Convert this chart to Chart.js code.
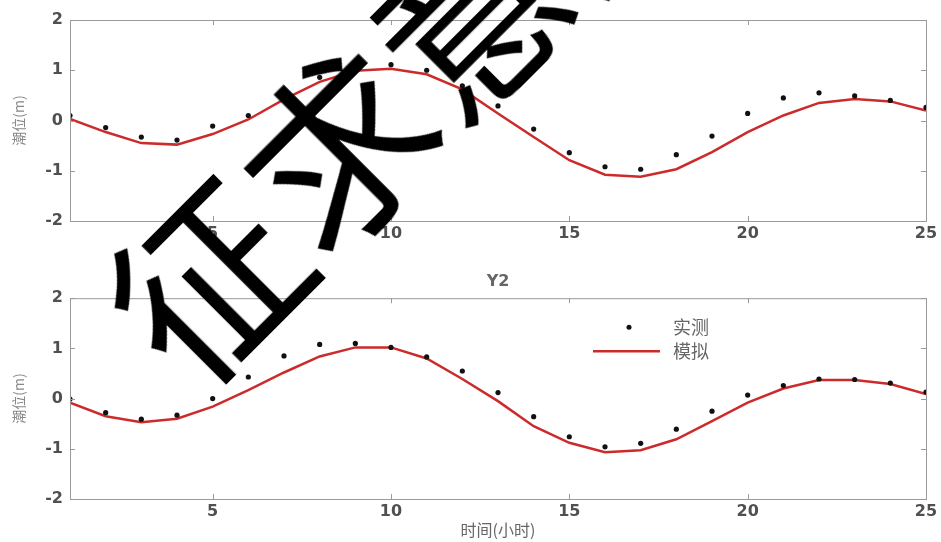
<!DOCTYPE html>
<html>
<head>
<meta charset="utf-8">
<script src="https://cdn.jsdelivr.net/npm/chart.js@4"></script>
<style>
  body { margin: 0; background: #fff; }
  #wrap { position: relative; width: 941px; height: 542px; overflow: hidden; }
  #c1 { position: absolute; left: 0; top: 0; }
  #c2 { position: absolute; left: 0; top: 270px; }
  #stamp {
    position: absolute; left: 398px; top: 77px;
    font-family: "Noto Sans CJK SC", sans-serif; font-size: 186px; line-height: 1;
    color: #000; white-space: nowrap; pointer-events: none;
    transform: translate(-50%, -50%) rotate(-45deg);
  }
</style>
</head>
<body>
<div id="wrap">
  <canvas id="c1" width="941" height="250"></canvas>
  <canvas id="c2" width="941" height="272"></canvas>
  <div id="stamp">征求意见</div>
</div>
<script>
// hourly data
const hours = [1,2,3,4,5,6,7,8,9,10,11,12,13,14,15,16,17,18,19,20,21,22,23,24,25];
const obsY1 = [0.10,-0.14,-0.33,-0.39,-0.11,0.10,0.45,0.86,1.02,1.11,1.00,0.69,0.29,-0.17,-0.64,-0.92,-0.97,-0.68,-0.31,0.14,0.45,0.55,0.49,0.40,0.26];
const simY1 = [0.03,-0.23,-0.45,-0.48,-0.27,0.02,0.42,0.77,0.99,1.03,0.92,0.62,0.14,-0.33,-0.79,-1.08,-1.12,-0.97,-0.63,-0.23,0.10,0.35,0.43,0.38,0.20];
const obsY2 = [-0.01,-0.28,-0.41,-0.33,0.00,0.43,0.85,1.08,1.10,1.02,0.83,0.55,0.12,-0.36,-0.76,-0.96,-0.89,-0.61,-0.25,0.07,0.26,0.39,0.38,0.31,0.13];
const simY2 = [-0.08,-0.35,-0.47,-0.40,-0.16,0.17,0.52,0.84,1.02,1.02,0.80,0.39,-0.05,-0.55,-0.88,-1.07,-1.03,-0.81,-0.45,-0.08,0.20,0.37,0.37,0.29,0.09];
const xTicks = [5, 10, 15, 20, 25];
const yTicks = [-2, -1, 0, 1, 2];
const seriesNames = ['实测', '模拟'];

const tickFont = { family: 'DejaVu Sans, sans-serif', size: 16, weight: 'bold' };
const cjkFont = 'Noto Sans CJK SC, sans-serif';

// MATLAB-like box with inward ticks on all four sides
const boxPlugin = {
    id: 'box',
    afterDraw(chart) {
        const { ctx, chartArea: a, scales } = chart;
        ctx.save();
        ctx.strokeStyle = '#9a9a9a';
        ctx.lineWidth = 1;
        ctx.strokeRect(a.left + 0.5, a.top + 0.5, a.right - a.left, a.bottom - a.top);
        ctx.beginPath();
        xTicks.forEach(v => {
            const px = Math.round(scales.x.getPixelForValue(v)) + 0.5;
            ctx.moveTo(px, a.bottom); ctx.lineTo(px, a.bottom - 5);
            ctx.moveTo(px, a.top); ctx.lineTo(px, a.top + 5);
        });
        yTicks.forEach(v => {
            const py = Math.round(scales.y.getPixelForValue(v)) + 0.5;
            ctx.moveTo(a.left, py); ctx.lineTo(a.left + 5, py);
            ctx.moveTo(a.right, py); ctx.lineTo(a.right - 5, py);
        });
        ctx.stroke();
        ctx.restore();
    }
};

// legend drawn inside the lower plot
const innerLegend = {
    id: 'innerLegend',
    afterDraw(chart, args, opts) {
        if (!opts.show) return;
        const { ctx, chartArea: a } = chart;
        const x0 = a.right - 333;
        ctx.save();
        ctx.fillStyle = '#111';
        ctx.beginPath();
        ctx.arc(x0 + 36, a.top + 29, 2.5, 0, Math.PI * 2);
        ctx.fill();
        ctx.strokeStyle = '#cc2b2b';
        ctx.lineWidth = 2.5;
        ctx.beginPath();
        ctx.moveTo(x0, a.top + 53); ctx.lineTo(x0 + 67, a.top + 53);
        ctx.stroke();
        ctx.fillStyle = '#666';
        ctx.font = '18px ' + cjkFont;
        ctx.textBaseline = 'middle';
        ctx.fillText(seriesNames[0], x0 + 80, a.top + 29);
        ctx.fillText(seriesNames[1], x0 + 80, a.top + 53);
        ctx.restore();
    }
};

function makeChart(id, obs, sim, opt) {
    const ctx = document.getElementById(id).getContext('2d');
    return new Chart(ctx, {
        type: 'line',
        data: {
            datasets: [{
                label: seriesNames[0],
                data: hours.map((h, i) => ({ x: h, y: obs[i] })),
                showLine: false,
                pointRadius: 2.6,
                pointBackgroundColor: '#111',
                pointBorderWidth: 0
            }, {
                label: seriesNames[1],
                data: hours.map((h, i) => ({ x: h, y: sim[i] })),
                borderColor: '#cc2b2b',
                borderWidth: 2.5,
                pointRadius: 0,
                tension: 0
            }]
        },
        options: {
            responsive: false,
            animation: false,
            layout: { padding: { left: 0, right: 15, top: opt.padTop, bottom: 0 } },
            plugins: {
                legend: { display: false },
                tooltip: { enabled: false },
                title: {
                    display: !!opt.title,
                    text: opt.title,
                    fullSize: false,
                    color: '#666',
                    font: { family: tickFont.family, size: 16, weight: 'bold' },
                    padding: { top: 2, bottom: 7 }
                },
                innerLegend: { show: opt.legend }
            },
            scales: {
                x: {
                    type: 'linear',
                    min: 1,
                    max: 25,
                    grid: { display: false, drawTicks: false },
                    border: { display: false },
                    afterBuildTicks: s => { s.ticks = xTicks.map(v => ({ value: v })); },
                    afterFit: s => { s.height = opt.xHeight; },
                    ticks: { color: '#505050', font: tickFont, padding: 3, maxRotation: 0 },
                    title: {
                        display: !!opt.xTitle,
                        text: opt.xTitle,
                        color: '#666',
                        font: { family: cjkFont, size: 16 },
                        padding: { top: 0, bottom: 2 }
                    }
                },
                y: {
                    min: -2,
                    max: 2,
                    grid: { display: false, drawTicks: false },
                    border: { display: false },
                    afterBuildTicks: s => { s.ticks = yTicks.map(v => ({ value: v })); },
                    afterFit: s => { s.width = 70; },
                    ticks: { color: '#505050', font: tickFont, padding: 7 },
                    title: {
                        display: true,
                        text: '潮位(m)',
                        color: '#888',
                        font: { family: cjkFont, size: 14 },
                        padding: { top: 10, bottom: 0 }
                    }
                }
            }
        },
        plugins: [boxPlugin, innerLegend]
    });
}

makeChart('c1', obsY1, simY1, { title: '', padTop: 20, xHeight: 29, legend: false });
makeChart('c2', obsY2, simY2, { title: 'Y2', padTop: 0, xHeight: 43, xTitle: '时间(小时)', legend: true });
</script>
</body>
</html>
